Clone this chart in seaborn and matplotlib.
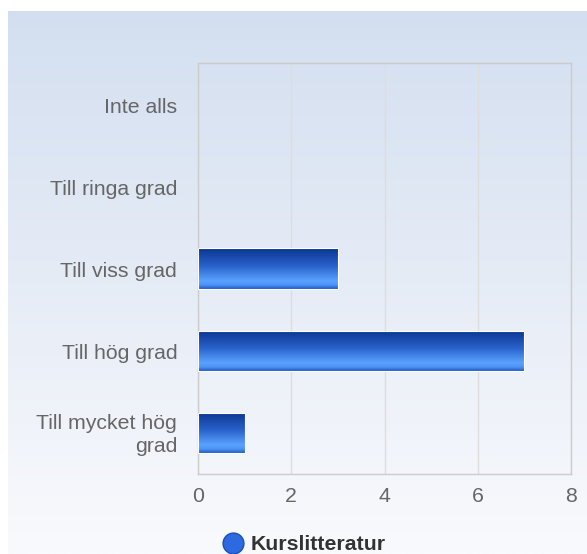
import numpy as np
import pandas as pd
import matplotlib
matplotlib.use("Agg")
import matplotlib.pyplot as plt
import matplotlib.transforms as mtransforms
import seaborn as sns
from matplotlib.colors import LinearSegmentedColormap
from matplotlib.lines import Line2D

categories = ["Inte alls", "Till ringa grad", "Till viss grad", "Till hög grad", "Till mycket hög\ngrad"]
values = [0, 0, 3, 7, 1]
series_name = "Kurslitteratur"
xticks = [0, 2, 4, 6, 8]

sns.set_theme(style="white")
plt.rcParams["font.family"] = ["Liberation Sans", "DejaVu Sans"]

W, H = 587, 554
fig = plt.figure(figsize=(W / 100, H / 100), dpi=100)
fig.patch.set_facecolor("white")

# background gradient panel
bg = fig.add_axes([8 / W, 0, (W - 8) / W, (H - 11) / H], zorder=0)
bg_cmap = LinearSegmentedColormap.from_list("bg", ["#d3dff0", "#e6ecf6", "#f9fafd"])
bg.imshow(np.linspace(0, 1, 256).reshape(-1, 1), aspect="auto", cmap=bg_cmap,
          extent=[0, 1, 0, 1], origin="upper")
bg.set_axis_off()

ax = fig.add_axes([198 / W, (H - 474) / H, (571 - 198) / W, (474 - 63) / H], zorder=1)
ax.patch.set_alpha(0)

df = pd.DataFrame({"cat": categories, "val": values})
sns.barplot(data=df, x="val", y="cat", orient="h", width=0.49, ax=ax,
            color="#2a63cc", edgecolor="white", linewidth=0.8)

bar_cmap = LinearSegmentedColormap.from_list(
    "bar", [(0.0, "#0a3590"), (0.45, "#2a63cc"), (0.8, "#5aa2ff"), (0.9, "#4f95f5"), (1.0, "#1e5cc8")])
grad = np.linspace(0, 1, 128).reshape(-1, 1)
for p in ax.patches:
    w = p.get_width()
    if w <= 0:
        continue
    x0, y0 = p.get_x(), p.get_y()
    h = p.get_height()
    im = ax.imshow(grad, aspect="auto", cmap=bar_cmap, origin="upper",
                   extent=[x0, x0 + w, y0 + h, y0], zorder=3)
    im.set_clip_path(p)
    p.set_facecolor("none")
    p.set_zorder(4)

ax.set_xlim(0, 8)
ax.set_ylim(len(categories) - 0.5, -0.5)
ax.set_xticks(xticks)
ax.set_xticklabels([str(t) for t in xticks])
ax.xaxis.grid(True, color="#dddddd", linewidth=1)
ax.set_axisbelow(True)
ax.set_xlabel("")
ax.set_ylabel("")
for s in ax.spines.values():
    s.set_color("#cccccc")
    s.set_linewidth(1)
ax.tick_params(axis="y", length=0, pad=15, labelsize=15.3, labelcolor="#666666")
ax.tick_params(axis="x", length=0, pad=9, labelsize=15.3, labelcolor="#666666")
for lab in ax.get_yticklabels():
    lab.set_multialignment("right")
    lab.set_linespacing(1.3)
    dy = 2 if "\n" in lab.get_text() else -1
    offset = mtransforms.ScaledTranslation(0, dy / 100, fig.dpi_scale_trans)
    lab.set_transform(lab.get_transform() + offset)

handle = Line2D([], [], marker="o", linestyle="none", markersize=15,
                markerfacecolor="#2d6ae0", markeredgecolor="#1a4fb8")
leg = fig.legend([handle], [series_name], loc="center", bbox_to_anchor=(303 / W, 1 - 545 / H),
                 frameon=False, handletextpad=0.2, handlelength=1.2,
                 prop={"weight": "bold", "size": 15.3})
for t in leg.get_texts():
    t.set_color("#333333")

fig.savefig("out.png", dpi=100)
